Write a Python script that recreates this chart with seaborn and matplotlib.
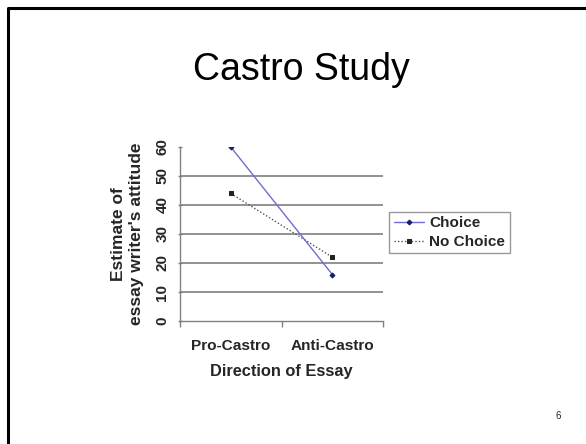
import matplotlib
matplotlib.use("Agg")
import matplotlib.pyplot as plt
import seaborn as sns
import pandas as pd
from matplotlib.lines import Line2D

categories = ["Pro-Castro", "Anti-Castro"]
choice_values = [60, 16]
no_choice_values = [44, 22]
series_names = ["Choice", "No Choice"]
y_ticks = [0, 10, 20, 30, 40, 50, 60]

sns.set_theme(style="white")
plt.rcParams['font.family'] = ['Liberation Sans', 'DejaVu Sans']

df = pd.DataFrame({
    "Direction": categories * 2,
    "Estimate": choice_values + no_choice_values,
    "Condition": [series_names[0]] * 2 + [series_names[1]] * 2,
})

fig = plt.figure(figsize=(5.86, 4.44), dpi=100)
ax = fig.add_axes([0.307, 0.277, 0.347, 0.392])

sns.lineplot(data=df[df.Condition == "Choice"], x="Direction", y="Estimate",
             ax=ax, color="#6e6ed2", linewidth=1.0, marker="D", markersize=2.5,
             markerfacecolor="#1a1a70", markeredgecolor="#1a1a70",
             label="Choice", zorder=4)
sns.lineplot(data=df[df.Condition == "No Choice"], x="Direction", y="Estimate",
             ax=ax, color="#555555", linewidth=1.0, linestyle=(0, (1, 1.5)),
             marker="s", markersize=2.5, markerfacecolor="#222222",
             markeredgecolor="#222222", label="No Choice", zorder=3)

ax.set_xlim(-0.5, 1.5)
ax.set_ylim(0, 60)
ax.set_yticks(y_ticks)
ax.set_yticklabels([str(v) for v in y_ticks], rotation=90, va="center",
                   fontsize=11, fontweight="bold")
for v in y_ticks[1:-1]:
    ax.axhline(v, color="#7f7f7f", linewidth=1.2, zorder=1)

ax.set_xticks([0, 1])
ax.set_xticklabels(categories, fontsize=11.1, fontweight="bold")
ax.set_xticks([-0.5, 0.5, 1.5], minor=True)
ax.tick_params(axis="x", which="major", length=0, pad=13)
ax.tick_params(axis="x", which="minor", length=4, width=1, color="#808080",
               direction="out", bottom=True)
ax.tick_params(axis="y", length=3, width=1, color="#808080", left=True,
               direction="inout", pad=6)

for s in ["top", "right"]:
    ax.spines[s].set_visible(False)
for s in ["left", "bottom"]:
    ax.spines[s].set_color("#808080")
    ax.spines[s].set_linewidth(1.0)

ax.set_xlabel("Direction of Essay", fontsize=11.8, fontweight="bold", labelpad=8)
ax.set_ylabel("Estimate of\nessay writer's attitude", fontsize=12.5,
              fontweight="bold", labelpad=8, linespacing=1.3)

leg = ax.legend(loc="upper left", bbox_to_anchor=(1.03, 0.628),
                borderaxespad=0.0,
                prop={"size": 11, "weight": "bold"}, frameon=True,
                fancybox=False, edgecolor="#808080", handlelength=2.0,
                borderpad=0.3, labelspacing=0.3, handletextpad=0.3)
leg.get_frame().set_linewidth(1.0)

fig.text(0.515, 0.843, "Castro Study", fontsize=27, ha="center", va="center",
         color="black")
fig.text(0.952, 0.062, "6", fontsize=7, ha="center", va="center")

fig.add_artist(Line2D([8 / 586, 8 / 586, 1.0], [0.0, 1 - 8 / 444, 1 - 8 / 444],
                      transform=fig.transFigure, color="black", linewidth=2.2))

fig.savefig("out.png", dpi=100)
